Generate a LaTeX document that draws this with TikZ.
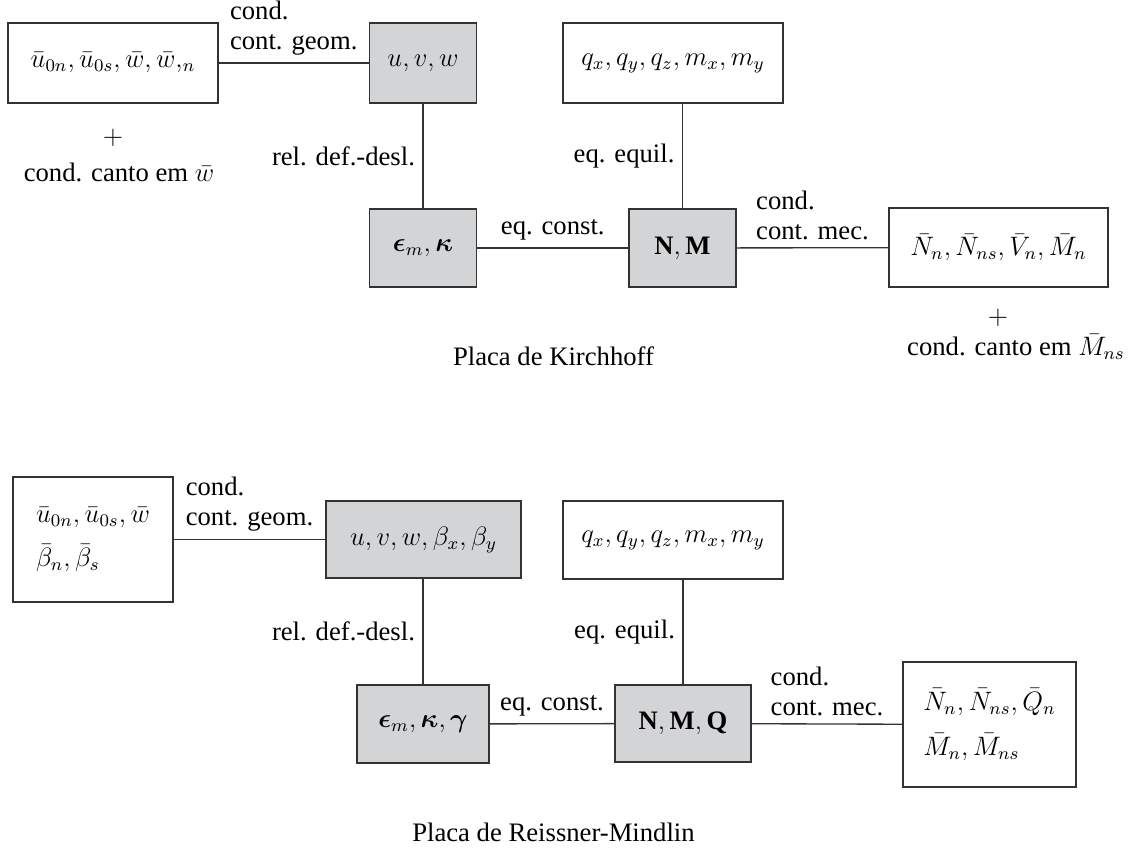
\documentclass[tikz,border=0pt]{standalone}
\usepackage{amsmath}
\usepackage{amssymb}
\usepackage{fontspec}
\setmainfont{Liberation Serif}
\usepackage{tikz}
\definecolor{boxgray}{RGB}{211,212,214}
\definecolor{edge}{RGB}{51,51,51}
\tikzstyle{box}=[draw=edge, line width=0.6pt, inner sep=0pt]
\tikzstyle{gbox}=[box, fill=boxgray]
\tikzstyle{lab}=[align=left]
\tikzstyle{link}=[draw=edge, line width=0.6pt]

\begin{document}
\begin{tikzpicture}[x=0.45pt, y=-0.45pt, font=\fontsize{12}{13.5}\selectfont]
        \useasboundingbox (0,0) rectangle (1128,850);
        % Kirchhoff
        \node[box, minimum width=94.5pt, minimum height=36pt] (Ubar1) at (113, 63) {$\bar{u}_{0n}, \bar{u}_{0s}, \bar{w}, \bar{w},_{n}$};
        \node[gbox, minimum width=48.2pt, minimum height=36pt] (Disp1) at (423, 63) {$u, v, w$};
        \node[box, minimum width=99pt, minimum height=36pt] (Load1) at (673, 63) {$q_x, q_y, q_z, m_x, m_y$};
        \node[gbox, minimum width=48.2pt, minimum height=35.1pt] (Strain1) at (423, 248) {$\boldsymbol{\epsilon}_m, \boldsymbol{\kappa}$};
        \node[gbox, minimum width=48.2pt, minimum height=35.1pt] (Stress1) at (682.5, 248) {$\mathbf{N}, \mathbf{M}$};
        \node[box, minimum width=98.6pt, minimum height=35.6pt] (Force1) at (998.5, 247.5) {$\bar{N}_n, \bar{N}_{ns}, \bar{V}_n, \bar{M}_n$};
        \node (PlusU1) at (113, 138) {$+$};
        \node (CantoU1) at (119, 172) {cond. canto em $\bar{w}$};
        \node (PlusF1) at (998, 318) {$+$};
        \node (CantoF1) at (1016, 347) {cond. canto em $\bar{M}_{ns}$};
        \node (Title1) at (553.5, 356) {Placa de Kirchhoff};
        \draw[link] (Ubar1) -- node[lab, above] {cond.\\cont. geom.} (Disp1);
        \draw[link] (Strain1.north) -- node[left] {rel. def.-desl.} (Strain1.north |- Disp1.south);
        \draw[link] (Stress1.north) -- node[left] {eq. equil.} (Stress1.north |- Load1.south);
        \draw[link] (Strain1) -- node[above] {eq. const.} (Stress1);
        \draw[link] (Stress1) -- node[lab, above] {cond.\\cont. mec.} (Force1);
        % Reissner-Mindlin
        \node[box, minimum width=72pt, minimum height=56.3pt, align=left] (Ubar2) at (93, 539.5) {$\bar{u}_{0n}, \bar{u}_{0s}, \bar{w}$\\[6.5pt]$\bar{\beta}_n, \bar{\beta}_s$};
        \node[gbox, minimum width=87.8pt, minimum height=34.7pt] (Disp2) at (423.5, 539.5) {$u, v, w, \beta_x, \beta_y$};
        \node[box, minimum width=99pt, minimum height=35.1pt] (Load2) at (673, 540) {$q_x, q_y, q_z, m_x, m_y$};
        \node[gbox, minimum width=59.4pt, minimum height=35.1pt] (Strain2) at (423, 724) {$\boldsymbol{\epsilon}_m, \boldsymbol{\kappa}, \boldsymbol{\gamma}$};
        \node[gbox, minimum width=61.2pt, minimum height=34.7pt] (Stress2) at (683, 723.5) {$\mathbf{N}, \mathbf{M}, \mathbf{Q}$};
        \node[box, minimum width=77.9pt, minimum height=56.3pt, align=left] (Force2) at (989.5, 724.5) {$\bar{N}_n, \bar{N}_{ns}, \bar{Q}_n$\\[6.5pt]$\bar{M}_n, \bar{M}_{ns}$};
        \node (Title2) at (553.5, 832) {Placa de Reissner-Mindlin};
        \draw[link] (Ubar2) -- node[lab, above] {cond.\\cont. geom.} (Disp2);
        \draw[link] (Strain2.north) -- node[left] {rel. def.-desl.} (Strain2.north |- Disp2.south);
        \draw[link] (Stress2.north) -- node[left] {eq. equil.} (Stress2.north |- Load2.south);
        \draw[link] (Strain2) -- node[above] {eq. const.} (Stress2);
        \draw[link] (Stress2) -- node[lab, above] {cond.\\cont. mec.} (Force2);
    \end{tikzpicture}
\end{document}
